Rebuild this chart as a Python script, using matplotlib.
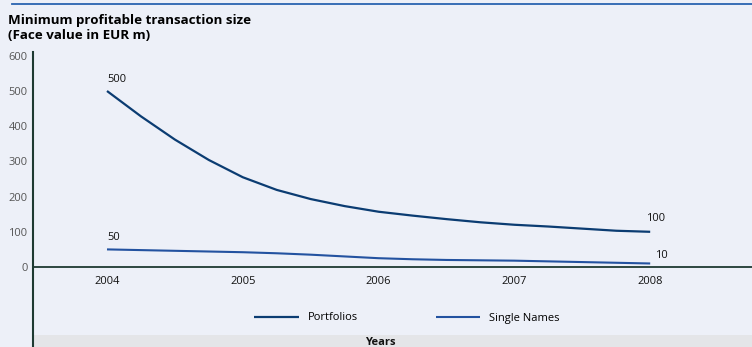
"""Minimum profitable transaction size line chart."""

import matplotlib.pyplot as plt
from matplotlib.patches import Rectangle
from matplotlib.lines import Line2D

plt.rcParams['font.family'] = ['Open Sans', 'DejaVu Sans']

# Series values, sampled every quarter year
years = [2004, 2004.25, 2004.5, 2004.75, 2005, 2005.25, 2005.5, 2005.75, 2006,
         2006.25, 2006.5, 2006.75, 2007, 2007.25, 2007.5, 2007.75, 2008]
portfolios = [500, 428, 362, 304, 255, 219, 193, 173, 157,
              146, 136, 127, 120, 115, 109, 103, 100]
single_names = [50, 48, 46, 44, 42, 39, 35, 30, 25,
                22, 20, 19, 18, 16, 14, 12, 10]

tick_years = [2004, 2005, 2006, 2007, 2008]
y_ticks = [0, 100, 200, 300, 400, 500, 600]

# (year, value, text, dx, dy) for the end-point labels
end_labels = [
    (2004, 500, '500', 0, 6),
    (2008, 100, '100', -4, 8),
    (2004, 50, '50', 0, 6),
    (2008, 10, '10', 5, 2),
]

BG = '#edf0f8'
NAVY = '#0b3c72'
BLUE = '#2352a0'
AXIS = '#1e3a32'

W, H = 752, 347
fig = plt.figure(figsize=(W / 100, H / 100), dpi=100, facecolor=BG)

# Thin blue rule across the top
fig.add_artist(Line2D([12 / W, 1], [1 - 4 / H, 1 - 4 / H], color='#2a64b0', lw=1.3))

fig.text(8 / W, 1 - 14 / H, 'Minimum profitable transaction size\n(Face value in EUR m)',
         fontsize=9.6, fontweight='bold', va='top', ha='left', linespacing=1.2)

# Axes spanning from the y-axis to the right edge, down to the bottom of the figure
left, top, bottom = 33, 52, 347
ax = fig.add_axes([left / W, 1 - bottom / H, (W - left) / W, (bottom - top) / H])
ax.set_facecolor(BG)

px_per_year = 135.8
px_per_100 = 35.2
x0_px, y0_px = 107, 267
ax.set_xlim(2004 - (x0_px - left) / px_per_year, 2004 + (W - x0_px) / px_per_year)
ax.set_ylim(-(bottom - y0_px) / px_per_100 * 100, (y0_px - top) / px_per_100 * 100)

ax.plot(years, portfolios, color=NAVY, lw=1.6, solid_capstyle='butt',
        solid_joinstyle='round', label='Portfolios')
ax.plot(years, single_names, color=BLUE, lw=1.5, solid_capstyle='butt',
        solid_joinstyle='round', label='Single Names')

for yr, val, txt, dx, dy in end_labels:
    ax.annotate(txt, (yr, val), xytext=(dx, dy), textcoords='offset pixels',
                ha='left', va='bottom', fontsize=8, color='#111111')

# Zero line and left spine
ax.axhline(0, color=AXIS, lw=1.3)
for side in ['top', 'right', 'bottom']:
    ax.spines[side].set_visible(False)
ax.spines['left'].set_color(AXIS)
ax.spines['left'].set_linewidth(1.5)

ax.set_yticks(y_ticks)
ax.set_yticklabels([str(v) for v in y_ticks], fontsize=8, color='#555555')
ax.tick_params(axis='y', length=0, pad=4)
ax.set_xticks([])
for yr in tick_years:
    ax.text(yr, -40, str(yr), ha='center', va='center', fontsize=8, color='#111111')

# Grey band with the axis caption
ax.add_patch(Rectangle((0, 0), 1, 12 / (bottom - top), transform=ax.transAxes,
                       facecolor='#e4e5e8', edgecolor='none', zorder=0))
ax.text(0.483, -229, 'Years', transform=ax.get_yaxis_transform(), ha='center',
        va='bottom', fontsize=8, fontweight='bold', color='#111111', clip_on=False)

ax.legend(loc='center', bbox_to_anchor=(374 / (W - left), 1 - (318 - top) / (bottom - top)),
          ncol=2, frameon=False, fontsize=8, handlelength=4.0, columnspacing=7.0,
          handletextpad=0.8)

fig.savefig('out.png', dpi=100, facecolor=BG)
